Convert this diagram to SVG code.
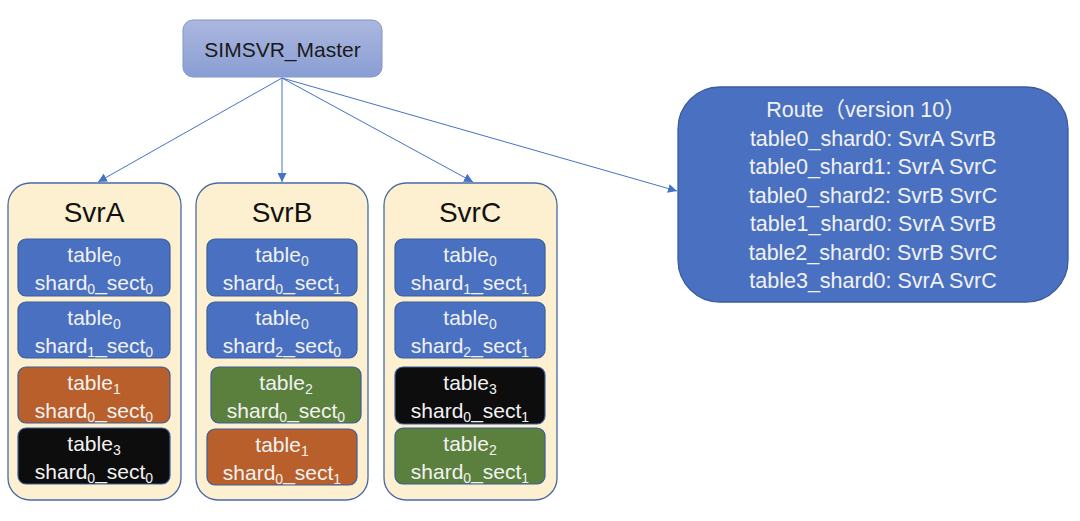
<svg xmlns="http://www.w3.org/2000/svg" width="1080" height="521" viewBox="0 0 1080 521">
<defs>
<linearGradient id="mg" x1="0" y1="0" x2="0" y2="1">
<stop offset="0" stop-color="#abb7df"/>
<stop offset="1" stop-color="#8a9ed3"/>
</linearGradient>
<marker id="ah" viewBox="0 0 10 10" refX="10" refY="5" markerWidth="9" markerHeight="9" markerUnits="userSpaceOnUse" orient="auto">
<path d="M0,0 L10,5 L0,10 z" fill="#4472c4"/>
</marker>
<style>
text{font-family:"Liberation Sans",Arial,"Noto Sans CJK SC",sans-serif}
.svr{fill:#fcf0d0;stroke:#4a6aa5;stroke-width:1.3}
.ttl{font-size:28px;fill:#111;text-anchor:middle}
.ib{stroke:#3b5e9c;stroke-width:1.2}
.blue{fill:#4a71c1}
.orange{fill:#b85f2b}
.green{fill:#5b7f3d}
.black{fill:#0d0d0d}
.it{font-size:21px;fill:#f2f2f2;text-anchor:middle}
.sub{font-size:14px}
.rt{font-size:21.5px;fill:#f2f2f2;text-anchor:middle}
.conn{stroke:#4472c4;stroke-width:1;fill:none}
</style>
</defs>
<rect width="1080" height="521" fill="#ffffff"/>

<g id="connectors">
<line class="conn" x1="282" y1="78" x2="98" y2="182" marker-end="url(#ah)"/>
<line class="conn" x1="282" y1="78" x2="282" y2="182" marker-end="url(#ah)"/>
<line class="conn" x1="282" y1="78" x2="473" y2="182" marker-end="url(#ah)"/>
<line class="conn" x1="282" y1="78" x2="677" y2="191" marker-end="url(#ah)"/>
</g>

<g id="master">
<rect x="183" y="20" width="199" height="57" rx="10" fill="url(#mg)" stroke="#8196cc" stroke-width="1"/>
<text x="282.5" y="57" font-size="21" fill="#1a1a1a" text-anchor="middle">SIMSVR_Master</text>
</g>

<g id="svrA">
<rect class="svr" x="8" y="183" width="173" height="317" rx="22"/>
<text class="ttl" x="94" y="222">SvrA</text>
<rect class="ib blue" x="18" y="239" width="152" height="57" rx="8"/>
<text class="it" x="94" y="262">table<tspan class="sub" dy="4">0</tspan></text>
<text class="it" x="94" y="290">shard<tspan class="sub" dy="4">0</tspan><tspan dy="-4">_sect</tspan><tspan class="sub" dy="4">0</tspan></text>
<rect class="ib blue" x="18" y="302" width="152" height="56" rx="8"/>
<text class="it" x="94" y="325">table<tspan class="sub" dy="4">0</tspan></text>
<text class="it" x="94" y="353">shard<tspan class="sub" dy="4">1</tspan><tspan dy="-4">_sect</tspan><tspan class="sub" dy="4">0</tspan></text>
<rect class="ib orange" x="18" y="367" width="152" height="56" rx="8"/>
<text class="it" x="94" y="390">table<tspan class="sub" dy="4">1</tspan></text>
<text class="it" x="94" y="418">shard<tspan class="sub" dy="4">0</tspan><tspan dy="-4">_sect</tspan><tspan class="sub" dy="4">0</tspan></text>
<rect class="ib black" x="18" y="428" width="152" height="56" rx="8"/>
<text class="it" x="94" y="451">table<tspan class="sub" dy="4">3</tspan></text>
<text class="it" x="94" y="479">shard<tspan class="sub" dy="4">0</tspan><tspan dy="-4">_sect</tspan><tspan class="sub" dy="4">0</tspan></text>
</g>

<g id="svrB">
<rect class="svr" x="196" y="183" width="172" height="317" rx="22"/>
<text class="ttl" x="282" y="222">SvrB</text>
<rect class="ib blue" x="207" y="239" width="150" height="57" rx="8"/>
<text class="it" x="282" y="262">table<tspan class="sub" dy="4">0</tspan></text>
<text class="it" x="282" y="290">shard<tspan class="sub" dy="4">0</tspan><tspan dy="-4">_sect</tspan><tspan class="sub" dy="4">1</tspan></text>
<rect class="ib blue" x="207" y="302" width="150" height="56" rx="8"/>
<text class="it" x="282" y="325">table<tspan class="sub" dy="4">0</tspan></text>
<text class="it" x="282" y="353">shard<tspan class="sub" dy="4">2</tspan><tspan dy="-4">_sect</tspan><tspan class="sub" dy="4">0</tspan></text>
<rect class="ib green" x="211" y="367" width="150" height="56" rx="8"/>
<text class="it" x="286" y="390">table<tspan class="sub" dy="4">2</tspan></text>
<text class="it" x="286" y="418">shard<tspan class="sub" dy="4">0</tspan><tspan dy="-4">_sect</tspan><tspan class="sub" dy="4">0</tspan></text>
<rect class="ib orange" x="207" y="429" width="150" height="56" rx="8"/>
<text class="it" x="282" y="452">table<tspan class="sub" dy="4">1</tspan></text>
<text class="it" x="282" y="480">shard<tspan class="sub" dy="4">0</tspan><tspan dy="-4">_sect</tspan><tspan class="sub" dy="4">1</tspan></text>
</g>

<g id="svrC">
<rect class="svr" x="384" y="183" width="173" height="317" rx="22"/>
<text class="ttl" x="470" y="222">SvrC</text>
<rect class="ib blue" x="395" y="239" width="150" height="57" rx="8"/>
<text class="it" x="470" y="262">table<tspan class="sub" dy="4">0</tspan></text>
<text class="it" x="470" y="290">shard<tspan class="sub" dy="4">1</tspan><tspan dy="-4">_sect</tspan><tspan class="sub" dy="4">1</tspan></text>
<rect class="ib blue" x="395" y="302" width="150" height="56" rx="8"/>
<text class="it" x="470" y="325">table<tspan class="sub" dy="4">0</tspan></text>
<text class="it" x="470" y="353">shard<tspan class="sub" dy="4">2</tspan><tspan dy="-4">_sect</tspan><tspan class="sub" dy="4">1</tspan></text>
<rect class="ib black" x="395" y="367" width="150" height="57" rx="8"/>
<text class="it" x="470" y="390">table<tspan class="sub" dy="4">3</tspan></text>
<text class="it" x="470" y="418">shard<tspan class="sub" dy="4">0</tspan><tspan dy="-4">_sect</tspan><tspan class="sub" dy="4">1</tspan></text>
<rect class="ib green" x="395" y="428" width="150" height="56" rx="8"/>
<text class="it" x="470" y="451">table<tspan class="sub" dy="4">2</tspan></text>
<text class="it" x="470" y="479">shard<tspan class="sub" dy="4">0</tspan><tspan dy="-4">_sect</tspan><tspan class="sub" dy="4">1</tspan></text>
</g>

<g id="route">
<rect x="678" y="87" width="390" height="215" rx="42" fill="#4a71c1" stroke="#3a5c9c" stroke-width="1.3"/>
<text class="rt" x="866" y="117">Route（version 10）</text>
<text class="rt" x="873" y="146">table0_shard0: SvrA SvrB</text>
<text class="rt" x="873" y="174">table0_shard1: SvrA SvrC</text>
<text class="rt" x="873" y="203">table0_shard2: SvrB SvrC</text>
<text class="rt" x="873" y="231">table1_shard0: SvrA SvrB</text>
<text class="rt" x="873" y="260">table2_shard0: SvrB SvrC</text>
<text class="rt" x="873" y="288">table3_shard0: SvrA SvrC</text>
</g>
</svg>
